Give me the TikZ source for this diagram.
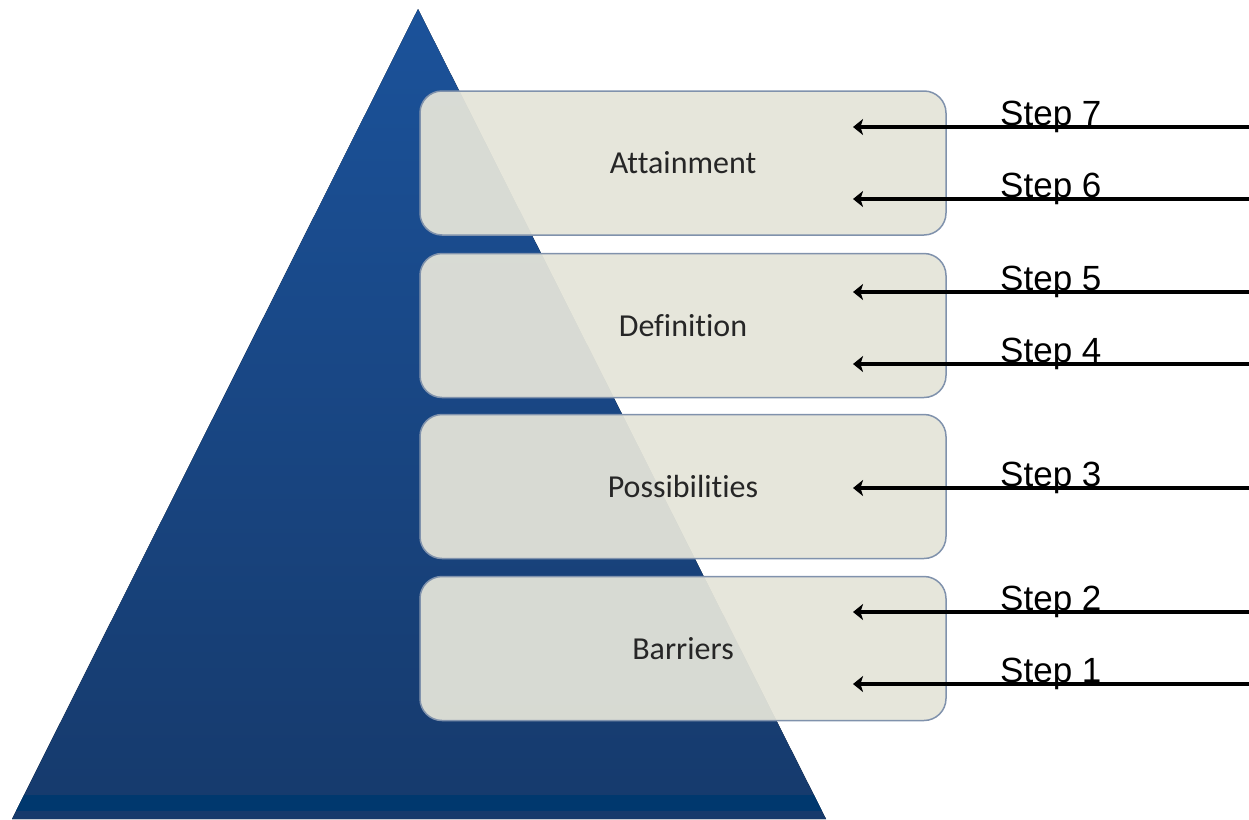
\documentclass[tikz,border=0pt]{standalone}
\usepackage{fontspec}
\setmainfont{Carlito}[Ligatures=NoCommon]
\newfontfamily\arialf{Liberation Sans}
\usetikzlibrary{arrows.meta}
\definecolor{pyrtop}{RGB}{27,82,154}
\definecolor{pyrbot}{RGB}{22,58,108}
\definecolor{pyrband}{RGB}{0,56,110}
\definecolor{boxfill}{RGB}{228,228,217}
\definecolor{boxline}{RGB}{128,146,172}
\definecolor{boxtext}{RGB}{38,38,38}
\tikzset{
  levelbox/.style={draw=boxline, line width=1.5pt, fill=boxfill, fill opacity=0.94, text opacity=1,
    rounded corners=22pt, minimum width=526pt, minimum height=144pt, inner sep=0pt,
    text=boxtext, font=\fontsize{32}{38}\selectfont},
  steparrow/.style={line width=3.1pt, -{Stealth[length=10pt,width=16pt,inset=2.5pt]}},
  steplabel/.style={anchor=base west, inner sep=0pt, font=\arialf\fontsize{35}{40}\selectfont}
}
\begin{document}
\begin{tikzpicture}[x=1pt,y=-1pt]
\useasboundingbox (0,0) rectangle (1249,819);
% pyramid
\fill[top color=pyrtop, bottom color=pyrbot] (418,9) -- (826,819) -- (12,819) -- cycle;
\begin{scope}
  \clip (418,9) -- (826,819) -- (12,819) -- cycle;
  \fill[pyrband] (0,795) rectangle (1249,811);
\end{scope}
% boxes
\node[levelbox] (att) at (683,163) {Attainment};
\node[levelbox] (def) at (683,325.5) {Definition};
\node[levelbox] (pos) at (683,486.5) {Possibilities};
\node[levelbox] (bar) at (683,648.5) {Barriers};
% arrow ends
\foreach \n/\y in {7/127,6/199,5/292,4/364,3/488,2/612,1/684}{
  \coordinate (s\n) at (1249,\y);
  \coordinate (t\n) at (853,\y);
  \draw[steparrow] (s\n) -- (t\n);
  \node[steplabel] (l\n) at (1000,\y-2) {Step \n};
}
\end{tikzpicture}
\end{document}
